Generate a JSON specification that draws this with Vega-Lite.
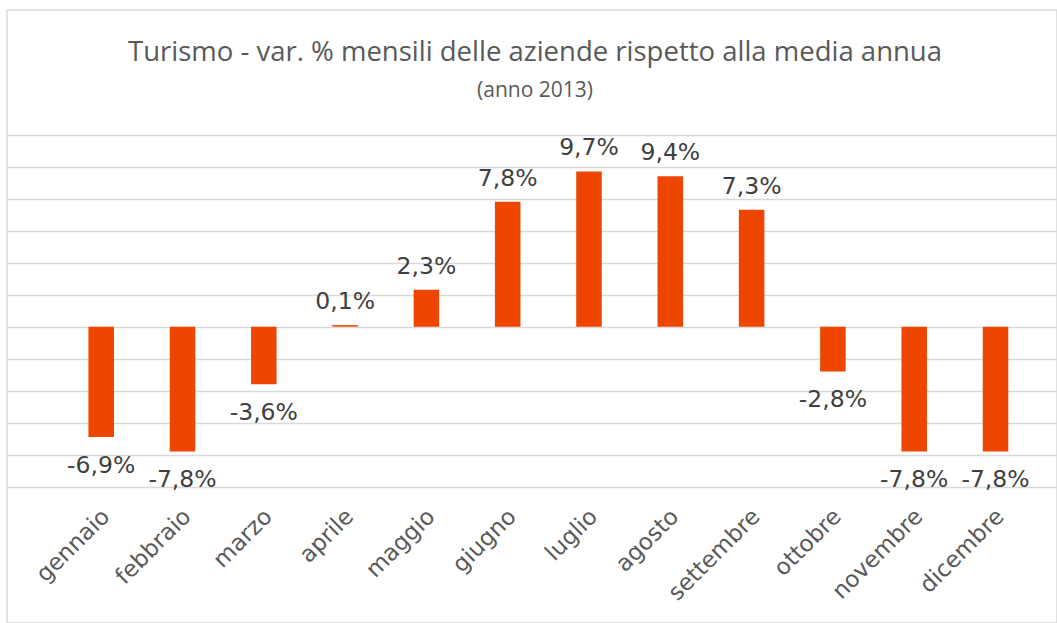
{
  "$schema": "https://vega.github.io/schema/vega-lite/v6.json",
  "autosize": "none",
  "width": 1050,
  "height": 613,
  "padding": {"left": 7, "top": 10, "right": 0, "bottom": 0},
  "background": "white",
  "config": {
    "view": {"stroke": "#d9d9d9", "strokeWidth": 1.5},
    "font": "DejaVu Sans"
  },
  "title": {
    "text": "Turismo - var. % mensili delle aziende rispetto alla media annua",
    "subtitle": "(anno 2013)",
    "font": "Open Sans",
    "fontSize": 27.5,
    "fontWeight": "normal",
    "color": "#595959",
    "subtitleFont": "Open Sans",
    "subtitleFontSize": 21,
    "subtitleColor": "#595959",
    "anchor": "middle",
    "frame": "group",
    "offset": -91,
    "subtitlePadding": 14,
    "dx": 3
  },
  "data": {
    "values": [
      {"mese": "gennaio", "valore": -6.9, "etichetta": "-6,9%"},
      {"mese": "febbraio", "valore": -7.8, "etichetta": "-7,8%"},
      {"mese": "marzo", "valore": -3.6, "etichetta": "-3,6%"},
      {"mese": "aprile", "valore": 0.1, "etichetta": "0,1%"},
      {"mese": "maggio", "valore": 2.3, "etichetta": "2,3%"},
      {"mese": "giugno", "valore": 7.8, "etichetta": "7,8%"},
      {"mese": "luglio", "valore": 9.7, "etichetta": "9,7%"},
      {"mese": "agosto", "valore": 9.4, "etichetta": "9,4%"},
      {"mese": "settembre", "valore": 7.3, "etichetta": "7,3%"},
      {"mese": "ottobre", "valore": -2.8, "etichetta": "-2,8%"},
      {"mese": "novembre", "valore": -7.8, "etichetta": "-7,8%"},
      {"mese": "dicembre", "valore": -7.8, "etichetta": "-7,8%"}
    ]
  },
  "encoding": {
    "x": {
      "field": "mese",
      "type": "nominal",
      "sort": null,
      "scale": {"paddingInner": 0.686, "paddingOuter": 0.8005, "align": 0.6256, "round": false},
      "axis": {
        "title": null,
        "labelAngle": -45,
        "labelFont": "DejaVu Sans",
        "labelFontSize": 23,
        "labelColor": "#595959",
        "ticks": false,
        "domain": false,
        "grid": false,
        "offset": -136.3,
        "labelPadding": 18,
        "labelOffset": -3
      }
    },
    "y": {
      "field": "valore",
      "type": "quantitative",
      "scale": {"domain": [-18.52, 19.79], "nice": false, "zero": false},
      "axis": {
        "values": [-10, -8, -6, -4, -2, 0, 2, 4, 6, 8, 10, 12],
        "grid": true,
        "gridColor": "#d9d9d9",
        "gridWidth": 1.5,
        "labels": false,
        "ticks": false,
        "domain": false,
        "title": null
      }
    }
  },
  "layer": [
    {"mark": {"type": "bar", "color": "#ee4600"}},
    {
      "transform": [{"filter": "datum.valore >= 0"}],
      "mark": {"type": "text", "baseline": "alphabetic", "dy": -16, "fontSize": 23.5, "color": "#404040"},
      "encoding": {"text": {"field": "etichetta"}}
    },
    {
      "transform": [{"filter": "datum.valore < 0"}],
      "mark": {"type": "text", "baseline": "alphabetic", "dy": 36, "fontSize": 23.5, "color": "#404040"},
      "encoding": {"text": {"field": "etichetta"}}
    }
  ]
}
